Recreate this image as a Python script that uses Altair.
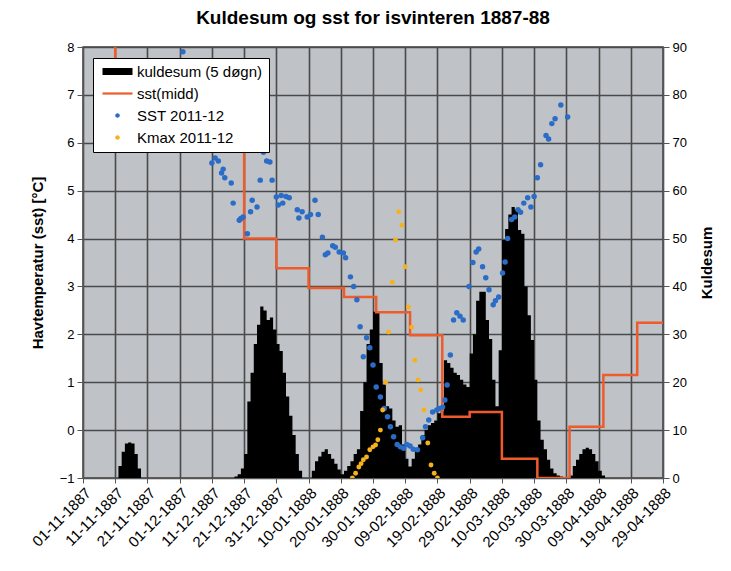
import altair as alt
import pandas as pd

TITLE = "Kuldesum og sst for isvinteren 1887-88"
TICK_LABELS = ["01-11-1887", "11-11-1887", "21-11-1887", "01-12-1887", "11-12-1887",
               "21-12-1887", "31-12-1887", "10-01-1888", "20-01-1888", "30-01-1888",
               "09-02-1888", "19-02-1888", "29-02-1888", "10-03-1888", "20-03-1888",
               "30-03-1888", "09-04-1888", "19-04-1888", "29-04-1888"]
TICK_DAYS = list(range(0, 181, 10))

SERIES = ["kuldesum (5 døgn)", "sst(midd)", "SST 2011-12", "Kmax 2011-12"]
COLORS = ["#000000", "#ef5b2b", "#2a6cc6", "#f6b21c"]

# Kuldesum (5 døgn), daily values, grouped in episodes (start day = days after 01-11-1887)
BUMP_1_START = 11
BUMP_1 = [2.5, 5.5, 7.2, 7.4, 7.2, 5, 2]
BUMP_2_START = 47
BUMP_2 = [0.3, 0.8, 2.0, 5, 16, 22, 28, 32, 35.8, 35, 33, 33.5, 31, 28, 26.5, 22, 17, 13, 9, 5, 1.5]
BUMP_3_START = 71
BUMP_3 = [1.5, 3.5, 4.5, 5.5, 6, 5, 4, 3, 1.8, 0.8]
BUMP_4_START = 81
BUMP_4 = [1.5, 2.5, 3.5, 5, 6, 14, 20, 28, 31, 34.7,
          34.5, 24, 19.5, 15, 14.5, 12, 10.7, 11, 7, 4,
          2.4, 4, 6, 7, 9, 10, 11, 11.5, 12, 13.5,
          14, 24.6, 24, 23, 22, 21.5, 20.5, 19.5, 19, 26,
          30, 37, 38.9, 38.9, 33, 29, 20.5, 15, 26.7, 49.7,
          52, 55, 56.6, 56, 51.8, 51, 40, 34, 28.8, 20.5,
          12, 8, 6, 3.8, 2, 1, 0.5, 0.3]
BUMP_5_START = 151
BUMP_5 = [0.5, 2.5, 3.8, 5, 6, 6.3, 6, 5, 3.5, 1.5, 0.5]

# sst(midd): step levels, each holding from its start day to the next one
SST_MIDD_START = [10, 10, 20, 30, 40, 50, 60, 70, 81, 91, 101.5, 111.5, 120, 130, 141, 151, 161.5, 172]
SST_MIDD = [8.8, 7.3, 7.0, 6.6, 6.2, 4.0, 3.38, 2.97, 2.78, 2.46, 1.98, 0.28, 0.38, -0.6, -1.0, 0.07, 1.15, 2.24]
SST_MIDD_END = 181

# SST 2011-12
SST_DAY = [31, 33, 35, 37, 38, 39, 40, 41, 42, 43, 43.5, 44, 46, 46.6, 48.5, 49, 49.7, 51, 52, 52.5,
           54, 55, 56, 57, 58, 58.7, 60, 60.6, 61.5, 62, 63, 64, 66.5, 67, 68, 69.6, 70.6, 72, 73, 74.3,
           75.2, 76, 77.5, 78.3, 79.5, 80.8, 81.5, 83, 84, 85, 86, 87, 88, 89, 90, 91, 92.3, 93.5, 94.5, 95.4,
           96.4, 97.5, 98.5, 99.5, 100.5, 101.5, 102.5, 103.8, 105.4, 106.3, 107.3, 108.5, 109.8, 110.5,
           111.6, 112.3, 113, 114, 115, 116, 117, 118, 119.8, 121, 122, 122.8, 124, 125, 126, 127.3, 128,
           129, 130.2, 131, 131.8, 133, 134, 135, 135.8, 136.8, 138, 139, 140, 141, 142, 143.7, 144.5,
           145.5, 146.5, 148.3, 150.4]
SST_VAL = [7.9, 7.4, 7.0, 6.6, 6.3, 6.0, 5.58, 5.68, 5.62, 5.37, 5.45, 5.27, 5.16, 4.74, 4.38, 4.42, 4.45, 4.1, 4.56, 4.8,
           4.66, 5.22, 5.8, 5.62, 5.6, 5.22, 4.87, 4.7, 4.9, 4.74, 4.88, 4.85, 4.6, 4.43, 4.56, 4.45, 4.5, 4.8, 4.5, 4.03,
           3.66, 3.7, 3.85, 3.82, 3.72, 3.7, 3.6, 3.2, 3.0, 2.72, 2.16, 1.53, 1.93, 1.72, 1.36, 0.9, 0.69, 0.45, 0.28, 0.07,
           -0.14, -0.3, -0.35, -0.38, -0.3, -0.33, -0.4, -0.41, -0.16, 0.07, 0.21, 0.38, 0.42, 0.45,
           0.48, 0.63, 0.94, 1.57, 2.3, 2.45, 2.38, 2.3, 3.0, 3.5, 3.72, 3.78, 3.41, 3.18, 2.93, 2.62, 2.7,
           2.78, 3.28, 3.51, 4.0, 4.4, 4.45, 4.6, 4.55, 4.74, 4.85, 4.66, 4.88, 5.27, 5.54, 6.15, 6.08,
           6.4, 6.5, 6.79, 6.54]

# Kmax 2011-12
KMAX_DAY = [83.6, 84.6, 85.6, 86.3, 87, 88, 89, 90, 90.8, 91.5, 92.3, 93, 93.9, 94.8, 96, 97, 98,
            99, 100, 101, 102, 103, 104, 104.8, 105.8, 107, 108, 109, 110]
KMAX_VAL = [-1.0, -0.9, -0.77, -0.7, -0.62, -0.56, -0.41, -0.35, -0.31, -0.2, 0.0, 0.42, 1.0, 2.05, 3.09, 3.97, 4.56,
            4.28, 3.41, 2.57, 2.15, 1.46, 1.05, 0.84, 0.42, -0.27, -0.73, -0.9, -1.0]

# ---- tables ----
kul = [0.0] * 182
for start, vals in [(BUMP_1_START, BUMP_1), (BUMP_2_START, BUMP_2), (BUMP_3_START, BUMP_3),
                    (BUMP_4_START, BUMP_4), (BUMP_5_START, BUMP_5)]:
    for i, v in enumerate(vals):
        kul[start + i] = v
kdf = pd.DataFrame({"d": list(range(len(kul))), "k": kul})

line_rows = []
ends = SST_MIDD_START[1:] + [SST_MIDD_END]
for s, e, v in zip(SST_MIDD_START, ends, SST_MIDD):
    line_rows.append({"d": s, "v": v})
    line_rows.append({"d": e, "v": v})
ldf = pd.DataFrame(line_rows)
ldf["i"] = range(len(ldf))

sdf = pd.DataFrame({"d": SST_DAY, "v": SST_VAL})
mdf = pd.DataFrame({"d": KMAX_DAY, "v": KMAX_VAL})
legdf = pd.DataFrame({"d": [-50] * 4, "v": [-5] * 4, "series": SERIES})

FONT = "Liberation Sans"
label_expr = "[" + ",".join("'%s'" % t for t in TICK_LABELS) + "][round(datum.value/10)]"

x_enc = alt.X("d:Q", scale=alt.Scale(domain=[0, 180], nice=False, zero=False),
              axis=alt.Axis(values=TICK_DAYS, labelExpr=label_expr, labelAngle=-45, grid=True,
                            title=None, tickSize=5, labelFontSize=15, labelPadding=2,
                            labelOverlap=False, labelBound=False))
y_left = alt.Y("v:Q", scale=alt.Scale(domain=[-1, 8], nice=False, zero=False),
               axis=alt.Axis(orient="left", values=list(range(-1, 9)), grid=True,
                             title="Havtemperatur (sst) [°C]", tickSize=6, labelPadding=3,
                             titlePadding=14, labelFontSize=13, titleFontSize=15))
y_right = alt.Y("k:Q", scale=alt.Scale(domain=[0, 90], nice=False),
                axis=alt.Axis(orient="right", values=list(range(0, 91, 10)), grid=False,
                              title="Kuldesum", titleAngle=-90, tickSize=6, labelPadding=3,
                              titlePadding=28, labelFontSize=13, titleFontSize=15))

bars = alt.Chart(kdf).mark_area(interpolate="step-after", color="black").encode(x=x_enc, y=y_right)

line = alt.Chart(ldf).mark_line(color=COLORS[1], strokeWidth=2.5, clip=True).encode(
    x=x_enc, y=y_left, order="i:Q")
sst = alt.Chart(sdf).mark_circle(size=30, color=COLORS[2], opacity=1, clip=True).encode(x=x_enc, y=y_left)
kmax = alt.Chart(mdf).mark_circle(size=24, color=COLORS[3], opacity=1, clip=True).encode(x=x_enc, y=y_left)

SHAPES = ["M-3,-0.7H3V0.7H-3Z", "M-3,-0.22H3V0.22H-3Z",
          "M-0.45,0A0.45,0.45,0,1,0,0.45,0A0.45,0.45,0,1,0,-0.45,0Z",
          "M-0.45,0A0.45,0.45,0,1,0,0.45,0A0.45,0.45,0,1,0,-0.45,0Z"]

leg = alt.Legend(orient="none", legendX=10, legendY=11, title=None, fillColor="white",
                 strokeColor="black", padding=6, symbolSize=100, symbolStrokeWidth=0,
                 symbolOffset=11, labelOffset=12, labelFont=FONT, labelFontSize=15,
                 labelColor="black", rowPadding=6, zindex=2)
dummy = alt.Chart(legdf).mark_point(filled=True, clip=True, opacity=1).encode(
    x=x_enc, y=y_left,
    color=alt.Color("series:N", scale=alt.Scale(domain=SERIES, range=COLORS), legend=leg, sort=SERIES),
    shape=alt.Shape("series:N", scale=alt.Scale(domain=SERIES, range=SHAPES), legend=leg, sort=SERIES))

inner = alt.layer(line, sst, kmax, dummy)

chart = alt.layer(bars, inner).resolve_scale(y="independent").properties(
    width=580, height=431,
    background="white",
    title=alt.TitleParams(TITLE, font=FONT, fontSize=19, fontWeight="bold", anchor="middle",
                          offset=13, color="black"),
    padding={"left": 75, "top": 39, "right": 60, "bottom": 85},
    autosize=alt.AutoSizeParams(type="none"),
).configure_view(fill="#bfc3c8", stroke="#444444", strokeWidth=1.5).configure_axis(
    domainColor="#555555", tickColor="#555555", labelFont=FONT, titleFont=FONT,
    labelColor="black", titleColor="black", titleFontWeight="bold",
    gridColor="#4a4a4a", gridWidth=1.6, gridOpacity=1
)

chart.save("out.html", embed_options={"renderer": "svg", "actions": False})
